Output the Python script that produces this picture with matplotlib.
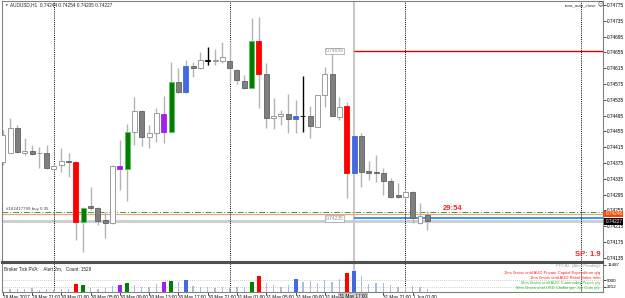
import numpy as np
import matplotlib.pyplot as plt
from matplotlib.transforms import blended_transform_factory

plt.rcParams['font.family'] = ['Liberation Sans', 'DejaVu Sans']

# AUDUSD H1, first bar 29 May 2017 17:00
opens = [0.74378, 0.74401, 0.74464, 0.74401, 0.74406, 0.74400, 0.74401, 0.74360, 0.74371, 0.74380,
         0.74378, 0.74226, 0.74267, 0.74262, 0.74231, 0.74224, 0.74360, 0.74360, 0.74454, 0.74507,
         0.74441, 0.74452, 0.74500, 0.74454, 0.74581, 0.74555, 0.74621, 0.74616, 0.74634, 0.74634,
         0.74634, 0.74634, 0.74611, 0.74583, 0.74565, 0.74684, 0.74601, 0.74490, 0.74495, 0.74500,
         0.74487, 0.74495, 0.74495, 0.74467, 0.74548, 0.74601, 0.74492, 0.74520, 0.74350, 0.74444,
         0.74355, 0.74352, 0.74350, 0.74330, 0.74295, 0.74290, 0.74302, 0.74224, 0.74244]
highs = [0.74459, 0.74490, 0.74472, 0.74439, 0.74421, 0.74416, 0.74421, 0.74376, 0.74414, 0.74401,
         0.74381, 0.74264, 0.74315, 0.74264, 0.74252, 0.74371, 0.74434, 0.74474, 0.74543, 0.74510,
         0.74472, 0.74515, 0.74545, 0.74631, 0.74616, 0.74636, 0.74631, 0.74656, 0.74669, 0.74664,
         0.74682, 0.74682, 0.74613, 0.74598, 0.74742, 0.74745, 0.74629, 0.74540, 0.74510, 0.74550,
         0.74535, 0.74596, 0.74520, 0.74548, 0.74619, 0.74659, 0.74543, 0.74530, 0.74444, 0.74452,
         0.74381, 0.74396, 0.74363, 0.74338, 0.74325, 0.74307, 0.74305, 0.74274, 0.74254]
lows = [0.74371, 0.74401, 0.74401, 0.74396, 0.74396, 0.74363, 0.74360, 0.74358, 0.74353, 0.74340,
        0.74181, 0.74150, 0.74257, 0.74219, 0.74186, 0.74221, 0.74307, 0.74280, 0.74421, 0.74419,
        0.74414, 0.74429, 0.74426, 0.74454, 0.74553, 0.74553, 0.74593, 0.74613, 0.74624, 0.74624,
        0.74629, 0.74578, 0.74576, 0.74563, 0.74565, 0.74515, 0.74464, 0.74462, 0.74472, 0.74452,
        0.74452, 0.74454, 0.74439, 0.74467, 0.74517, 0.74495, 0.74484, 0.74287, 0.74350, 0.74315,
        0.74333, 0.74328, 0.74295, 0.74287, 0.74287, 0.74287, 0.74224, 0.74221, 0.74205]
closes = [0.74446, 0.74464, 0.74403, 0.74406, 0.74398, 0.74401, 0.74363, 0.74368, 0.74381, 0.74377,
          0.74226, 0.74262, 0.74262, 0.74229, 0.74224, 0.74368, 0.74368, 0.74454, 0.74507, 0.74441,
          0.74452, 0.74502, 0.74454, 0.74581, 0.74555, 0.74621, 0.74616, 0.74636, 0.74635, 0.74636,
          0.74644, 0.74616, 0.74586, 0.74565, 0.74684, 0.74601, 0.74490, 0.74495, 0.74500, 0.74487,
          0.74495, 0.74493, 0.74469, 0.74548, 0.74601, 0.74495, 0.74517, 0.74350, 0.74444, 0.74353,
          0.74350, 0.74350, 0.74330, 0.74290, 0.74290, 0.74302, 0.74236, 0.74241, 0.74227]
# w=white up, g=grey down, r/G/b/p = PVA volume colours, k=black cross
kinds = ("w w g w g w g w w g r G g g g w p G w g w w p G g b g w k w "
         "w g g g G r g w w g b k g w w g w r b g g g g g g w g w g").split()
volumes = [1150, 1400, 1275, 1150, 1575, 850, 1400, 850, 1400, 1400,
           3270, 2975, 1830, 1275, 1575, 2550, 2975, 3700, 2975, 2250,
           2000, 3270, 4120, 4675, 4120, 5100, 2550, 2000, 2000, 1575,
           2000, 1575, 2000, 2250, 4120, 6800, 3700, 2975, 2125, 2975,
           5400, 4375, 4675, 3950, 5100, 4375, 5400, 7950, 8925, 6930,
           3400, 3700, 3700, 2975, 2250, 2000, 2550, 2000, 1275]
time_ticks = [0, 4, 8, 12, 16, 20, 24, 28, 32, 36, 40, 44, 52, 56]
time_labels = ["29 May 2017", "29 May 21:00", "30 May 01:00", "30 May 05:00", "30 May 09:00",
               "30 May 13:00", "30 May 17:00", "30 May 21:00", "31 May 01:00", "31 May 05:00",
               "31 May 09:00", "31 May 13:00", "31 May 21:00", "1 Jun 01:00"]
day_starts = [7, 31, 55, 79]
vline_bar = 48
vline_label = "31 May 17:00"
bid, ask = 0.74227, 0.74246
buy_price = 0.74250
hi_level, lo_level = 0.74659, 0.74235
price_ticks = [0.74775 - 0.0004 * i for i in range(17)]
vol_ticks = [11487, 5000, 2212]

W, H = 625, 298
fig = plt.figure(figsize=(W / 100, H / 100), dpi=100)
ax = fig.add_axes([2 / W, 36 / H, 601 / W, 261 / H])
ax2 = fig.add_axes([2 / W, 6 / H, 601 / W, 29 / H])

x = np.arange(len(opens))
o, c = np.array(opens), np.array(closes)
fc = {'w': 'white', 'g': '#7f7f7f', 'r': '#ff0000', 'G': '#008000', 'b': '#4169e1', 'p': '#a020f0', 'k': 'black'}
ec = {'w': '#8c8c8c', 'g': '#606060', 'r': '#ff0000', 'G': '#60c060', 'b': '#4169e1', 'p': '#a020f0', 'k': 'black'}
wick = ['black' if k == 'k' else '#b4b4b4' for k in kinds]
ax.vlines(x, lows, highs, colors=wick, lw=1, zorder=2)
ax.bar(x, np.maximum(np.abs(c - o), 0.000015), 0.68, bottom=np.minimum(o, c),
       color=[fc[k] for k in kinds], edgecolor=[ec[k] for k in kinds], lw=0.6, zorder=3)

xmin, xmax = -0.1, 82.0
ax.set_xlim(xmin, xmax)
ax.set_ylim(0.741244, 0.747851)

# levels
ax.axhline(bid, color='#cccccc', lw=2, zorder=1)
ax.axhline(ask, color='#f4a080', lw=0.9, zorder=1)
ax.axhline(buy_price, color='#3c9c3c', lw=0.7, ls=(0, (6, 2, 1, 2)), zorder=1)
ax.hlines(hi_level, vline_bar, xmax, color='#dd0000', lw=1, zorder=1)
ax.hlines(lo_level, vline_bar, xmax, color='#1e90ff', lw=1.3, zorder=1)
for a in (ax, ax2):
    a.axvline(vline_bar, color='#c8c8c8', lw=1.5, zorder=0)
    for d in day_starts:
        a.axvline(d, color='black', lw=0.7, ls=(0, (1, 1.2)), zorder=1)
for lvl in (hi_level, lo_level):
    ax.text(45.3, lvl, "%.5f" % lvl, fontsize=3.5, color='#909090', ha='center', va='center',
            bbox=dict(boxstyle='square,pad=0.15', fc='white', ec='#a0a0a0', lw=0.5))
ax.text(0.5, buy_price + 0.00004, "#162417799 buy 0.35", fontsize=3.2, color='#404040', va='bottom')

ax.yaxis.tick_right()
ax.set_yticks(price_ticks)
ax.set_yticklabels(["%.5f" % p for p in price_ticks], fontsize=3.4)
ax.tick_params(axis='y', length=2, width=0.5, pad=1)
ax.set_xticks([])
for s in ax.spines.values():
    s.set_color('#808080')
    s.set_linewidth(0.8)
ax.spines['bottom'].set_color('#505050')
ax.spines['bottom'].set_linewidth(1.5)

tr = blended_transform_factory(ax.transAxes, ax.transData)
ax.text(1.004, ask, "%.5f" % ask, transform=tr, fontsize=3.4, color='white', va='center',
        bbox=dict(boxstyle='square,pad=0.2', fc='#ff4500', ec='none'))
ax.text(1.004, bid, "%.5f" % bid, transform=tr, fontsize=3.4, color='white', va='center',
        bbox=dict(boxstyle='square,pad=0.2', fc='black', ec='none'))

# volume panel
vcol = [fc[k] if k in 'rGbp' else '#a8bce0' for k in kinds]
vwid = [0.55 if k in 'rGbp' else 0.18 for k in kinds]
ax2.bar(x, volumes, vwid, color=vcol, zorder=2)
ax2.set_xlim(xmin, xmax)
ax2.set_ylim(0, 12325)
for lvl in (5000, 2212):
    ax2.axhline(lvl, color='#c0c0c0', lw=0.6, ls=(0, (1, 1.5)), zorder=1)
ax2.yaxis.tick_right()
ax2.set_yticks(vol_ticks)
ax2.set_yticklabels([str(v) for v in vol_ticks], fontsize=3.2)
ax2.tick_params(axis='y', length=2, width=0.5, pad=1)
ax2.set_xticks(time_ticks)
ax2.set_xticklabels(time_labels, fontsize=3.3, ha='left')
ax2.tick_params(axis='x', length=2, width=0.5, pad=0.2)
for s in ax2.spines.values():
    s.set_color('#808080')
    s.set_linewidth(0.8)
ax2.spines['top'].set_color('#505050')
ax2.spines['top'].set_linewidth(1.5)
trx = blended_transform_factory(ax2.transData, ax2.transAxes)
ax2.text(vline_bar - 0.2, -0.07, vline_label, transform=trx, fontsize=3.3, ha='center', va='top',
         bbox=dict(boxstyle='square,pad=0.2', fc='#d8d8d8', ec='#a0a0a0', lw=0.4))
ax2.text(0.003, 0.88, "Broker Tick PVA:    Alert 2m,   Count: 1529", transform=ax2.transAxes,
         fontsize=3.3, color='#202020', va='top')

# overlay texts
def ftxt(px, py, s, **kw):
    fig.text(px / W, 1 - py / H, s, **kw)

ftxt(4, 5, "\u25bc", fontsize=2.5, color='#303030', va='center')
ftxt(10, 5, "AUDUSD,H1  0.74244 0.74254 0.74205 0.74227", fontsize=3.4, color='#202020', va='center')
ftxt(596, 5, "rsna_auto_close", fontsize=3.2, color='#303030', va='center', ha='right')
ftxt(600, 5, "\u263a", fontsize=4, color='#303030', va='center', ha='center', family='DejaVu Sans')
ftxt(453, 208, "29:54", fontsize=5.5, color='#ff2020', fontweight='bold', va='center', ha='center')
ftxt(601, 254, "SP: 1.9", fontsize=5.5, color='#ff2020', fontweight='bold', va='center', ha='right')
ftxt(600, 266, "PFCAL  (Alert Pending)", fontsize=3.1, color='#a0a0a0', va='center', ha='right')
news = [("1hrs 0mins until AUD Private Capital Expenditure q/q", '#ff2020'),
        ("1hrs 0mins until AUD Retail Sales m/m", '#ff2020'),
        ("6hrs 0mins until AUD Commodity Prices y/y", '#22bb22'),
        ("6hrs 0mins until USD Challenger Job Cuts y/y", '#22bb22')]
for i, (s, col) in enumerate(news):
    ftxt(600, 273 + 5 * i, s, fontsize=3.0, color=col, va='center', ha='right')

fig.savefig('out.png', dpi=100)
